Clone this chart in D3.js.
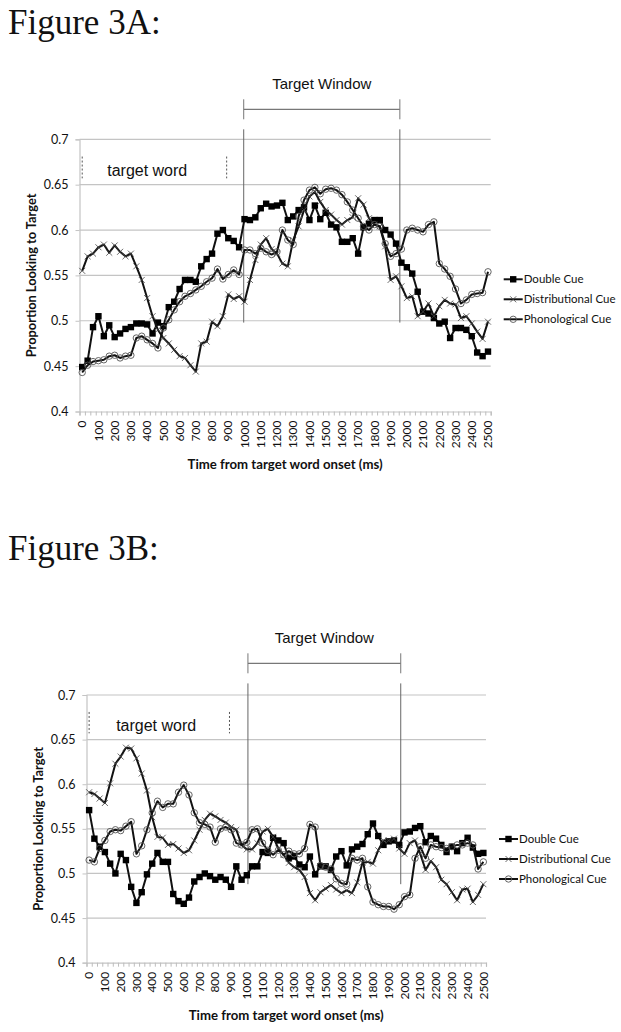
<!DOCTYPE html>
<html>
<head>
<meta charset="utf-8">
<script src="https://cdn.jsdelivr.net/npm/d3@7"></script>
<style>
  body { margin: 0; background: #fff; }
  svg { display: block; }
  text { font-family: Lato, "Open Sans", sans-serif; fill: #111; }
  .fig { font-family: "Liberation Serif", "DejaVu Serif", serif; font-size: 35px; }
  .ann { font-family: "Liberation Sans", Arial, sans-serif; }
</style>
</head>
<body>
<div id="chart"></div>
<script>
// Proportion looking to target, one sample every 33.3 ms (0 .. 2500 ms)

let seriesNames = ["Double Cue", "Distributional Cue", "Phonological Cue"];
let nSamples = 76;
let tickLabelsMs = d3.range(0, 2501, 100);
let yTicks = [0.4, 0.45, 0.5, 0.55, 0.6, 0.65, 0.7];

// Figure 3A
let doubleA = [0.449,0.456,0.493,0.505,0.483,0.495,0.482,0.486,0.491,0.493,
  0.497,0.497,0.496,0.486,0.498,0.494,0.515,0.521,0.535,0.545,
  0.545,0.543,0.560,0.568,0.574,0.596,0.600,0.591,0.588,0.581,
  0.612,0.611,0.614,0.624,0.629,0.626,0.627,0.630,0.611,0.615,
  0.622,0.625,0.611,0.627,0.612,0.619,0.606,0.603,0.587,0.587,
  0.591,0.574,0.603,0.607,0.611,0.611,0.600,0.595,0.585,0.564,
  0.559,0.552,0.532,0.510,0.508,0.503,0.497,0.499,0.481,0.492,
  0.492,0.490,0.483,0.465,0.461,0.466];
let distribA = [0.555,0.571,0.574,0.581,0.584,0.575,0.583,0.576,0.571,0.574,
  0.560,0.545,0.525,0.505,0.490,0.481,0.475,0.468,0.461,0.459,
  0.451,0.444,0.475,0.477,0.499,0.494,0.505,0.529,0.524,0.527,
  0.521,0.545,0.567,0.584,0.591,0.579,0.574,0.563,0.560,0.589,
  0.604,0.622,0.637,0.642,0.631,0.622,0.617,0.611,0.606,0.611,
  0.614,0.635,0.628,0.613,0.606,0.604,0.582,0.545,0.549,0.538,
  0.525,0.527,0.505,0.510,0.519,0.505,0.516,0.523,0.519,0.518,
  0.503,0.505,0.497,0.488,0.480,0.499];
let phonoA = [0.443,0.451,0.455,0.456,0.457,0.461,0.462,0.459,0.461,0.462,
  0.481,0.483,0.479,0.475,0.470,0.492,0.501,0.512,0.521,0.527,
  0.530,0.534,0.538,0.543,0.547,0.557,0.546,0.551,0.556,0.551,
  0.578,0.578,0.574,0.580,0.576,0.573,0.576,0.600,0.589,0.584,
  0.615,0.633,0.644,0.647,0.640,0.645,0.646,0.644,0.639,0.631,
  0.622,0.613,0.604,0.600,0.606,0.604,0.585,0.571,0.574,0.579,
  0.600,0.602,0.600,0.598,0.606,0.609,0.563,0.557,0.549,0.535,
  0.519,0.523,0.529,0.530,0.531,0.554];

// Figure 3B
let doubleB = [0.571,0.539,0.530,0.524,0.511,0.500,0.522,0.515,0.485,0.467,
  0.479,0.499,0.511,0.523,0.513,0.513,0.477,0.469,0.466,0.473,
  0.491,0.496,0.500,0.497,0.493,0.496,0.493,0.485,0.508,0.493,
  0.498,0.508,0.508,0.524,0.523,0.540,0.537,0.534,0.517,0.519,
  0.510,0.507,0.519,0.499,0.508,0.508,0.504,0.519,0.525,0.509,
  0.527,0.530,0.533,0.544,0.556,0.542,0.532,0.536,0.537,0.532,
  0.546,0.547,0.551,0.553,0.535,0.542,0.539,0.532,0.524,0.530,
  0.525,0.534,0.540,0.529,0.522,0.523];
let distribB = [0.591,0.589,0.584,0.579,0.601,0.623,0.631,0.641,0.640,0.629,
  0.612,0.593,0.563,0.541,0.540,0.532,0.533,0.528,0.523,0.526,
  0.537,0.549,0.560,0.567,0.564,0.560,0.557,0.552,0.549,0.532,
  0.527,0.527,0.534,0.547,0.550,0.541,0.528,0.521,0.512,0.507,
  0.504,0.496,0.478,0.470,0.479,0.483,0.487,0.482,0.478,0.481,
  0.478,0.490,0.512,0.513,0.511,0.526,0.537,0.537,0.539,0.528,
  0.522,0.534,0.537,0.522,0.504,0.514,0.507,0.493,0.488,0.479,
  0.470,0.482,0.483,0.468,0.476,0.488];
let phonoB = [0.515,0.513,0.528,0.537,0.547,0.549,0.548,0.553,0.558,0.522,
  0.531,0.549,0.568,0.581,0.574,0.578,0.578,0.591,0.599,0.588,
  0.568,0.557,0.555,0.552,0.535,0.550,0.552,0.549,0.534,0.532,
  0.535,0.549,0.550,0.534,0.526,0.521,0.526,0.521,0.525,0.522,
  0.522,0.528,0.555,0.552,0.509,0.507,0.505,0.494,0.489,0.488,
  0.517,0.515,0.517,0.485,0.468,0.465,0.463,0.463,0.460,0.465,
  0.474,0.476,0.517,0.530,0.517,0.532,0.530,0.529,0.528,0.530,
  0.532,0.532,0.534,0.532,0.505,0.513];

// annotations (ms on x, proportion on y)
let targetWindowA = [995, 1957];
let targetWindowB = [1007, 1976];
let targetWordMs = [0, 890];
let windowLineY = { A: [0.711, 0.498], B: [0.713, 0.488] };
let targetWordY = [0.681, 0.657];


////////////////////////////////////////////////////////////////////////

let svg = d3.select("#chart").append("svg")
  .attr("width", 621)
  .attr("height", 1032);

svg.append("text").attr("class", "fig").attr("x", 8).attr("y", 34).text("Figure 3A:");
svg.append("text").attr("class", "fig").attr("x", 8).attr("y", 560).text("Figure 3B:");

function drawChart(cfg)
{
  let g = svg.append("g");
  let xScale = d3.scalePoint().domain(d3.range(nSamples))
    .range([cfg.left, cfg.right]).padding(0.5);
  let binScale = d3.scaleLinear().domain([0, nSamples]).range([cfg.left, cfg.right]);
  let msScale = d3.scaleLinear().domain([0, 2500]).range([xScale(0), xScale(nSamples - 1)]);
  let yScale = d3.scaleLinear().domain([0.4, 0.7]).range([cfg.bottom, cfg.top]);

  // gridlines
  g.append("g").selectAll("line").data(yTicks.slice(1)).enter().append("line")
    .attr("x1", cfg.left).attr("x2", cfg.right)
    .attr("y1", d => yScale(d)).attr("y2", d => yScale(d))
    .attr("stroke", "#c4c4c4").attr("stroke-width", 1.2);

  // y axis
  let yAxis = g.append("g")
    .attr("transform", "translate(" + cfg.left + ",0)")
    .call(d3.axisLeft(yScale).tickValues(yTicks).tickSize(4).tickPadding(7)
      .tickFormat(d => d3.format("")(+d.toFixed(2))));
  yAxis.select(".domain").attr("stroke", "#c4c4c4").attr("stroke-width", 1.2);
  yAxis.selectAll(".tick line").attr("stroke", "#c4c4c4");
  yAxis.selectAll("text").style("font-size", "12.5px").attr("fill", "#222");

  // x axis: a tick between every sample
  let xAxis = g.append("g")
    .attr("transform", "translate(0," + cfg.bottom + ")")
    .call(d3.axisBottom(binScale).tickValues(d3.range(nSamples + 1)).tickSize(4).tickFormat(""));
  xAxis.select(".domain").attr("stroke", "#c4c4c4").attr("stroke-width", 1.2);
  xAxis.selectAll(".tick line").attr("stroke", "#bdbdbd");

  g.append("g").selectAll("text").data(tickLabelsMs).enter().append("text")
    .attr("transform", d => "translate(" + xScale(d / 100 * 3) + "," + (cfg.bottom + 9) + ") rotate(-90)")
    .attr("text-anchor", "end")
    .attr("dy", "0.35em")
    .style("font-size", "12px")
    .attr("fill", "#222")
    .text(d => d);

  // axis titles
  g.append("text")
    .attr("transform", "translate(" + (cfg.left - 44) + "," + ((cfg.top + cfg.bottom) / 2) + ") rotate(-90)")
    .attr("text-anchor", "middle")
    .style("font-size", "12.8px").style("font-weight", "bold")
    .text("Proportion Looking to Target");
  g.append("text")
    .attr("x", (cfg.left + cfg.right) / 2).attr("y", cfg.bottom + 57)
    .attr("text-anchor", "middle")
    .style("font-size", "13.2px").style("font-weight", "bold")
    .text("Time from target word onset (ms)");

  // target window bracket and lines
  let tw = cfg.window;
  g.append("text").attr("class", "ann")
    .attr("x", (msScale(tw[0]) + msScale(tw[1])) / 2).attr("y", cfg.top - cfg.annTop)
    .attr("text-anchor", "middle").style("font-size", "15px").attr("fill", "#222")
    .text("Target Window");
  g.append("line")
    .attr("x1", msScale(tw[0])).attr("x2", msScale(tw[1]))
    .attr("y1", cfg.top - cfg.annTop + 20).attr("y2", cfg.top - cfg.annTop + 20)
    .attr("stroke", "#555");
  g.append("g").selectAll("line").data(tw).enter().append("line")
    .attr("x1", d => msScale(d)).attr("x2", d => msScale(d))
    .attr("y1", cfg.top - cfg.annTop + 10).attr("y2", cfg.top - cfg.annTop + 30)
    .attr("stroke", "#777");
  g.append("g").selectAll("line").data(tw).enter().append("line")
    .attr("x1", d => msScale(d)).attr("x2", d => msScale(d))
    .attr("y1", yScale(cfg.lineY[0])).attr("y2", yScale(cfg.lineY[1]))
    .attr("stroke", "#666");

  // target word
  g.append("g").selectAll("line").data(targetWordMs).enter().append("line")
    .attr("x1", d => msScale(d)).attr("x2", d => msScale(d))
    .attr("y1", yScale(targetWordY[0])).attr("y2", yScale(targetWordY[1]))
    .attr("stroke", "#555").attr("stroke-dasharray", "2,2");
  g.append("text").attr("class", "ann")
    .attr("x", msScale(targetWordMs[0]) + cfg.wordDx).attr("y", yScale(targetWordY[1]) - 2)
    .style("font-size", "16px").attr("fill", "#111")
    .text("target word");

  // series
  let line = d3.line().x((d, i) => xScale(i)).y(d => yScale(d));
  cfg.series.forEach(function(values, k) {
    let sg = g.append("g");
    sg.append("path").datum(values)
      .attr("d", line)
      .attr("fill", "none").attr("stroke", "#111").attr("stroke-width", 2)
      .attr("stroke-linejoin", "round");
    drawMarkers(sg, values.map((v, i) => [xScale(i), yScale(v)]), k);
  });

  // legend
  let lg = g.append("g").attr("transform", "translate(" + (cfg.right + 13) + "," + (cfg.top + cfg.legendTop) + ")");
  seriesNames.forEach(function(name, k) {
    let row = lg.append("g").attr("transform", "translate(0," + (k * 20) + ")");
    row.append("line").attr("x1", 0).attr("x2", 19).attr("y1", 0).attr("y2", 0)
      .attr("stroke", "#111").attr("stroke-width", 2);
    drawMarkers(row, [[9.5, 0]], k);
    row.append("text").attr("x", 20).attr("y", 0).attr("dy", "0.35em")
      .style("font-size", "11.5px").text(name);
  });
}

function drawMarkers(sel, pts, k)
{
  if (k === 0) {
    sel.selectAll(null).data(pts).enter().append("rect")
      .attr("x", d => d[0] - 3.2).attr("y", d => d[1] - 3.2)
      .attr("width", 6.4).attr("height", 6.4).attr("fill", "#000");
  } else if (k === 1) {
    sel.selectAll(null).data(pts).enter().append("path")
      .attr("d", d => "M" + (d[0] - 3) + "," + (d[1] - 3) + "L" + (d[0] + 3) + "," + (d[1] + 3) +
        "M" + (d[0] - 3) + "," + (d[1] + 3) + "L" + (d[0] + 3) + "," + (d[1] - 3))
      .attr("stroke", "#444").attr("stroke-width", 0.8);
  } else {
    sel.selectAll(null).data(pts).enter().append("circle")
      .attr("cx", d => d[0]).attr("cy", d => d[1]).attr("r", 3.2)
      .attr("fill", "none").attr("stroke", "#555").attr("stroke-width", 0.9);
  }
}

drawChart({
  left: 79.5, right: 490.7, top: 139.3, bottom: 411.5,
  series: [doubleA, distribA, phonoA],
  window: targetWindowA, lineY: windowLineY.A,
  annTop: 50, wordDx: 25, legendTop: 140
});

drawChart({
  left: 86.5, right: 486, top: 695, bottom: 962.7,
  series: [doubleB, distribB, phonoB],
  window: targetWindowB, lineY: windowLineY.B,
  annTop: 51.7, wordDx: 27, legendTop: 144
});
</script>
</body>
</html>
